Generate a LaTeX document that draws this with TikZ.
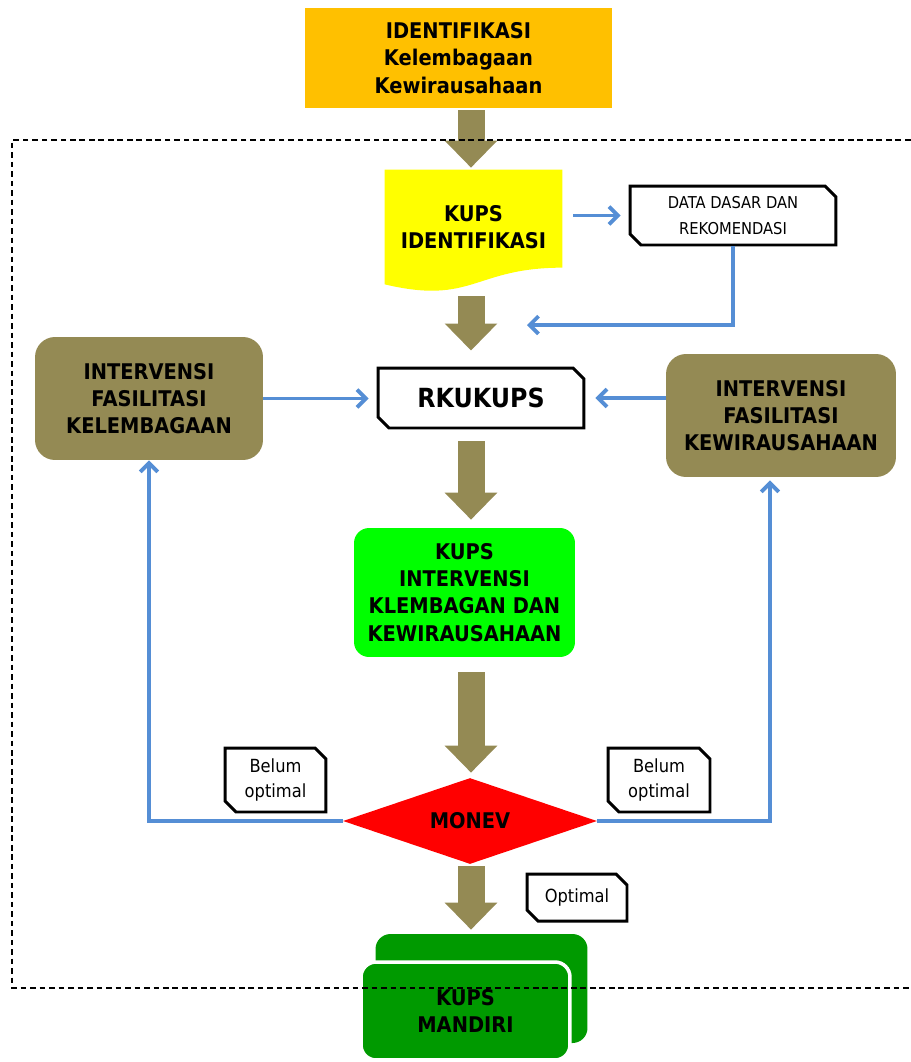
\documentclass[tikz,border=0pt]{standalone}
\usepackage{fontspec}
\usepackage{tikz}
\usetikzlibrary{shapes.geometric,shapes.misc,arrows.meta,backgrounds}

\newfontfamily\boxfont{DejaVu Sans}[FakeStretch=0.9]

\definecolor{identorange}{HTML}{FFC000}
\definecolor{docyellow}{HTML}{FFFF00}
\definecolor{olivebox}{HTML}{948A54}
\definecolor{brightgreen}{HTML}{00FF00}
\definecolor{mandirigreen}{HTML}{009A00}
\definecolor{monevred}{HTML}{FF0000}
\definecolor{lineblue}{HTML}{558ED5}

\begin{document}
\begin{tikzpicture}[x=0.02cm, y=-0.02cm]
    \tikzstyle{big text}=[
        font = \boxfont\bfseries\fontsize{12.3}{15.5}\selectfont,
        align = center,
        text = black
    ]
    \tikzstyle{small text}=[
        font = \boxfont\fontsize{9.3}{14.7}\selectfont,
        align = center,
        text = black
    ]
    \tikzstyle{note text}=[
        font = \boxfont\fontsize{10.3}{14}\selectfont,
        align = center,
        text = black
    ]
    \tikzstyle{plain box}=[
        rectangle,
        inner sep = 0pt,
        big text
    ]
    \tikzstyle{round box}=[
        rectangle,
        rounded corners = 0.4cm,
        inner sep = 0pt,
        big text
    ]
    \tikzstyle{snip box}=[
        chamfered rectangle,
        chamfered rectangle corners = {north east, south west},
        chamfered rectangle xsep = 0.11cm,
        chamfered rectangle ysep = 0.11cm,
        draw = black,
        line width = 1.7pt,
        fill = white,
        inner sep = 0pt
    ]
    \tikzstyle{big arrow}=[
        draw = olivebox,
        line width = 0.54cm,
        -{Triangle[length=0.54cm, width=1.02cm]}
    ]
    \tikzstyle{blue arrow}=[
        draw = lineblue,
        line width = 2.2pt,
        -{Straight Barb[length=5pt, width=10pt]}
    ]
    \tikzstyle{frame}=[
        draw = black,
        line width = 0.8pt,
        dash pattern = on 3.2pt off 2.2pt
    ]

    \useasboundingbox (0, 0) rectangle (910, 1062);

    % boxes
    \node[plain box, fill=identorange, minimum width=6.14cm, minimum height=2cm] (ident) at (458.5, 58) {IDENTIFIKASI\\Kelembagaan\\Kewirausahaan};
    \node[plain box, minimum width=3.54cm, minimum height=2.28cm] (kupsid) at (473.5, 227) {KUPS\\IDENTIFIKASI};
    \node[snip box, small text, minimum width=4.12cm, minimum height=1.18cm] (datadasar) at (733, 215.5) {DATA DASAR DAN\\REKOMENDASI};
    \node[snip box, big text, font=\boxfont\bfseries\fontsize{15}{17}\selectfont, minimum width=4.12cm, minimum height=1.2cm] (rkukups) at (481, 398) {RKUKUPS};
    \node[round box, fill=olivebox, minimum width=4.56cm, minimum height=2.46cm] (leftint) at (149, 398.5) {INTERVENSI\\FASILITASI\\KELEMBAGAAN};
    \node[round box, fill=olivebox, minimum width=4.6cm, minimum height=2.46cm] (rightint) at (781, 415.5) {INTERVENSI\\FASILITASI\\KEWIRAUSAHAAN};
    \node[round box, fill=brightgreen, rounded corners=0.3cm, minimum width=4.42cm, minimum height=2.58cm] (kupsint) at (464.5, 592.5) {KUPS\\INTERVENSI\\KLEMBAGAN DAN\\KEWIRAUSAHAAN};
    \node[diamond, fill=monevred, aspect=2.95, minimum width=5.08cm, minimum height=1.72cm, inner sep=0pt, big text] (monev) at (470, 821) {MONEV};
    \node[snip box, note text, minimum width=2.02cm, minimum height=1.28cm] (belumleft) at (275.5, 780) {Belum\\optimal};
    \node[snip box, note text, minimum width=2.04cm, minimum height=1.28cm] (belumright) at (659, 780) {Belum\\optimal};
    \node[snip box, note text, minimum width=2cm, minimum height=0.94cm] (optimal) at (577, 897.5) {Optimal};
    \node[round box, fill=mandirigreen, rounded corners=0.3cm, minimum width=4.24cm, minimum height=2.18cm] (mandiriback) at (481.5, 988.5) {};
    \node[round box, fill=mandirigreen, rounded corners=0.3cm, draw=white, line width=2pt, minimum width=4.18cm, minimum height=1.96cm] (mandiri) at (465.5, 1011) {KUPS\\MANDIRI};

    % wavy document shape behind its text
    \begin{scope}[on background layer]
        \fill[docyellow] (kupsid.north west) -- (kupsid.north east) -- ++(0, 98)
            .. controls +(-88.5, 0) and +(88.5, 21) .. (kupsid.south west) -- cycle;
    \end{scope}

    % main flow
    \coordinate (axis) at (471, 0);
    \draw[big arrow, shorten <=0.04cm, shorten >=0.04cm] (axis |- ident.south) -- (axis |- kupsid.north);
    \draw[big arrow, shorten <=0.24cm, shorten >=0.32cm] (axis |- kupsid.south) -- (axis |- rkukups.north);
    \draw[big arrow, shorten <=0.24cm, shorten >=0.16cm] (axis |- rkukups.south) -- (axis |- kupsint.north);
    \draw[big arrow, shorten <=0.3cm, shorten >=0.1cm] (axis |- kupsint.south) -- (axis |- monev.north);
    \draw[big arrow, shorten <=0.04cm, shorten >=0.08cm] (axis |- monev.south) -- (axis |- mandiriback.north);

    % blue connectors
    \coordinate (feedback) at (527, 325);
    \draw[blue arrow, shorten <=0.22cm, shorten >=0.16cm] (kupsid.east |- datadasar.west) -- (datadasar.west);
    \draw[blue arrow] (datadasar.south) |- (feedback);
    \draw[blue arrow, shorten >=0.16cm] (leftint.east) -- (leftint.east -| rkukups.west);
    \draw[blue arrow, shorten >=0.2cm] (rightint.west |- rkukups.east) -- (rkukups.east);
    \draw[blue arrow] (monev.west) -| (leftint.south);
    \draw[blue arrow, shorten >=0.06cm] (monev.east) -| ([xshift=-0.22cm]rightint.south);

    % dashed frame
    \draw[frame] (920, 140) -- (12, 140) -- (12, 988) -- (920, 988);

\end{tikzpicture}
\end{document}
